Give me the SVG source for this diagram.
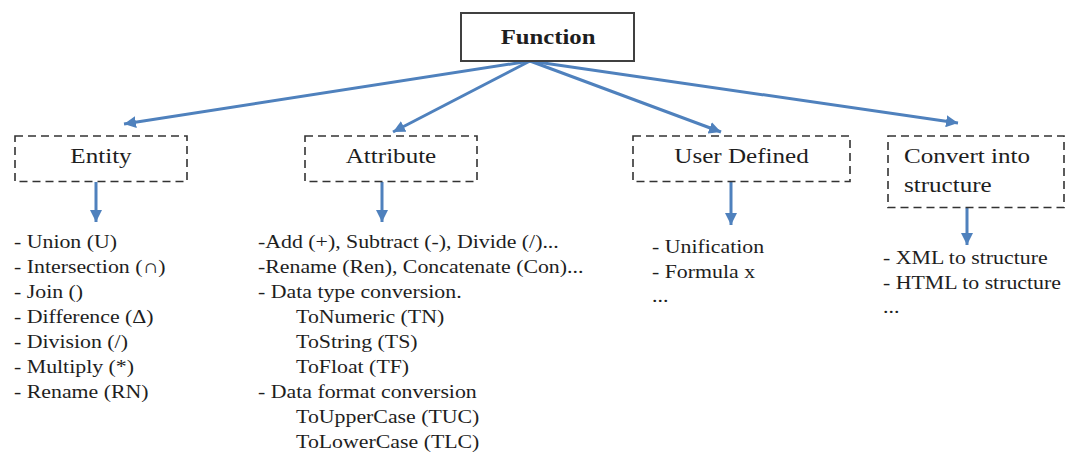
<svg xmlns="http://www.w3.org/2000/svg" width="1068" height="455" viewBox="0 0 1068 455">
  <style>
    text { font-family: Liberation Serif, Times New Roman, DejaVu Serif, serif; fill: #1e1e1e; }
    .title { font-size: 21.5px; font-weight: bold; }
    .label { font-size: 22px; }
    .list { font-size: 19.5px; }
    .dashed { fill: #ffffff; stroke: #333333; stroke-width: 1.6; stroke-dasharray: 8 5; }
    .solid { fill: #ffffff; stroke: #404040; stroke-width: 2; }
    .link { stroke: #4F81BD; stroke-width: 3; fill: none; marker-end: url(#head); }
  </style>
  <defs>
    <marker id="head" markerUnits="userSpaceOnUse" markerWidth="14" markerHeight="12" refX="12" refY="6" orient="auto">
      <path d="M0,0 L12,6 L0,12 Z" fill="#4F81BD"/>
    </marker>
  </defs>

  <rect width="1068" height="455" fill="#ffffff"/>

  <!-- connectors -->
  <g id="connectors">
    <line class="link" x1="530" y1="61" x2="124" y2="124"/>
    <line class="link" x1="530" y1="61" x2="393" y2="132"/>
    <line class="link" x1="530" y1="61" x2="721" y2="132"/>
    <line class="link" x1="530" y1="61" x2="958" y2="123"/>
    <line class="link" x1="96" y1="182" x2="96" y2="222"/>
    <line class="link" x1="382" y1="182" x2="382" y2="222"/>
    <line class="link" x1="731" y1="182" x2="731" y2="225"/>
    <line class="link" x1="967" y1="208" x2="967" y2="245"/>
  </g>

  <!-- root node -->
  <g id="function">
    <rect class="solid" x="461" y="13" width="173" height="48"/>
    <text class="title" font-family="Liberation Serif" text-anchor="middle" transform="translate(548 0) scale(1.15 1)" x="0" y="44.5">Function</text>
  </g>

  <!-- category nodes -->
  <g id="entity">
    <rect class="dashed" x="15" y="136" width="172" height="45.5"/>
    <text class="label" text-anchor="middle" transform="translate(101 0) scale(1.14 1)" x="0" y="163.5">Entity</text>
  </g>
  <g id="attribute">
    <rect class="dashed" x="305" y="136" width="172" height="45.5"/>
    <text class="label" text-anchor="middle" transform="translate(391 0) scale(1.14 1)" x="0" y="163.5">Attribute</text>
  </g>
  <g id="user-defined">
    <rect class="dashed" x="633" y="136" width="217" height="45.5"/>
    <text class="label" text-anchor="middle" transform="translate(741.5 0) scale(1.14 1)" x="0" y="163.5">User Defined</text>
  </g>
  <g id="convert">
    <rect class="dashed" x="888" y="136" width="176" height="71.5"/>
    <text class="label" transform="translate(904 0) scale(1.14 1)">
      <tspan x="0" y="163">Convert into</tspan>
      <tspan x="0" y="192">structure</tspan>
    </text>
  </g>

  <!-- operation lists -->
  <g id="entity-ops">
    <text class="list" transform="translate(14 0) scale(1.12 1)">
      <tspan x="0" y="248.5">- Union (U)</tspan>
      <tspan x="0" y="273.5">- Intersection (∩)</tspan>
      <tspan x="0" y="298.5">- Join ()</tspan>
      <tspan x="0" y="323.5">- Difference (Δ)</tspan>
      <tspan x="0" y="348.5">- Division (/)</tspan>
      <tspan x="0" y="373.5">- Multiply (*)</tspan>
      <tspan x="0" y="398.5">- Rename (RN)</tspan>
    </text>
  </g>
  <g id="attribute-ops">
    <text class="list" transform="translate(258 0) scale(1.12 1)">
      <tspan x="0" y="248.5">-Add (+), Subtract (-), Divide (/)...</tspan>
      <tspan x="0" y="273.5">-Rename (Ren), Concatenate (Con)...</tspan>
      <tspan x="0" y="298.5">- Data type conversion.</tspan>
      <tspan x="34" y="323.5">ToNumeric (TN)</tspan>
      <tspan x="34" y="348.5">ToString (TS)</tspan>
      <tspan x="34" y="373.5">ToFloat (TF)</tspan>
      <tspan x="0" y="398.5">- Data format conversion</tspan>
      <tspan x="34" y="423.5">ToUpperCase (TUC)</tspan>
      <tspan x="34" y="448.5">ToLowerCase (TLC)</tspan>
    </text>
  </g>
  <g id="user-defined-ops">
    <text class="list" transform="translate(652 0) scale(1.12 1)">
      <tspan x="0" y="253">- Unification</tspan>
      <tspan x="0" y="278">- Formula x</tspan>
      <tspan x="0" y="302">...</tspan>
    </text>
  </g>
  <g id="convert-ops">
    <text class="list" transform="translate(883 0) scale(1.12 1)">
      <tspan x="0" y="264.5">- XML to structure</tspan>
      <tspan x="0" y="289.5">- HTML to structure</tspan>
      <tspan x="0" y="313">...</tspan>
    </text>
  </g>
</svg>
